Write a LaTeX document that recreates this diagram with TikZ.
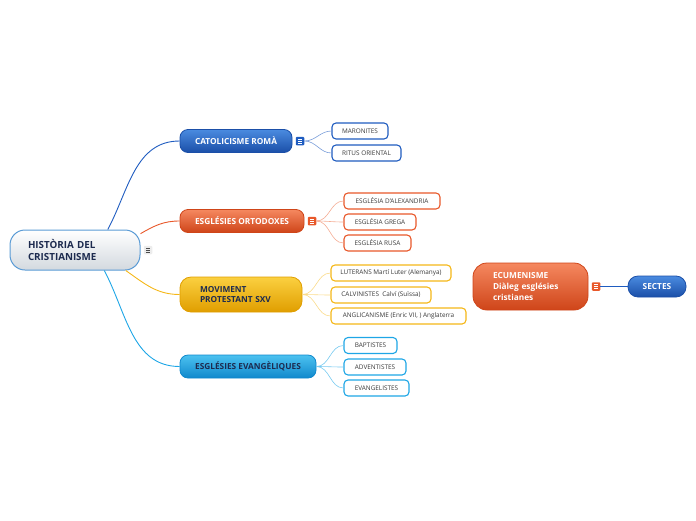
\documentclass[tikz,border=0pt]{standalone}
\usepackage{fontspec}
\setmainfont{Open Sans}
\definecolor{navy}{HTML}{1D2B4F}
\definecolor{leaftext}{HTML}{3A3A3A}
\definecolor{catblue}{HTML}{1F5CC0}
\definecolor{cattop}{HTML}{4A8BE0}
\definecolor{catbot}{HTML}{1B4FA8}
\definecolor{ortred}{HTML}{E8582A}
\definecolor{orttop}{HTML}{F58860}
\definecolor{ortbot}{HTML}{CF4519}
\definecolor{proyel}{HTML}{F5B718}
\definecolor{protop}{HTML}{FBD040}
\definecolor{probot}{HTML}{E09E00}
\definecolor{evacyan}{HTML}{1EA6E6}
\definecolor{evatop}{HTML}{4CC2F0}
\definecolor{evabot}{HTML}{1088CC}
\definecolor{rootline}{HTML}{5A9BD5}
\definecolor{rootbot}{HTML}{D3D9DF}
\begin{document}
\begin{tikzpicture}[x=1pt,y=-1pt,
main/.style={
rectangle,draw,rounded corners=8pt,
align=center,line width=0.8pt,
inner sep=0pt,
font=\bfseries\fontsize{8.3}{10}\selectfont
},
leaf/.style={
rectangle,draw,rounded corners=4pt,
fill=white,line width=1.1pt,
inner sep=0pt,minimum height=16pt,
text=leaftext,
font=\fontsize{6.4}{7}\selectfont
},
icon/.style={
rectangle,rounded corners=1pt,
minimum size=8.5pt,inner sep=0pt,
path picture={
\foreach \yy in {-2,0,2}
\draw[white,line width=0.8pt]
([xshift=-2.2pt,yshift=\yy pt]path picture bounding box.center) --
([xshift=2.2pt,yshift=\yy pt]path picture bounding box.center);
}
},
link/.style={line width=0.9pt},
sublink/.style={line width=0.6pt}
]
\useasboundingbox (0,0) rectangle (696,520);

% =======================
% ROOT
% =======================

\node[main,draw=rootline,top color=white,bottom color=rootbot,
rounded corners=15pt,line width=1pt,text=navy,align=left,
text width=94pt,inner xsep=18pt,minimum height=40pt,
font=\bfseries\fontsize{9.8}{12.5}\selectfont] (root) at (75,250)
{HISTÒRIA DEL\\CRISTIANISME};

\node[icon,fill=gray!15,path picture={
\foreach \yy in {-2,0,2}
\draw[gray!60!black,line width=0.7pt]
([xshift=-2.2pt,yshift=\yy pt]path picture bounding box.center) --
([xshift=2.2pt,yshift=\yy pt]path picture bounding box.center);
}] (root-ic) at (148,250) {};

% =======================
% CATOLICISME
% =======================

\node[main,draw=catbot,top color=cattop,bottom color=catbot,text=white,
minimum width=112pt,minimum height=23pt] (cat) at (236,141)
{CATOLICISME ROMÀ};

\node[icon,fill=catblue] (cat-ic) at (300,141) {};

\node[leaf,draw=catblue,minimum width=56pt] (maro) at (360,131) {MARONITES};
\node[leaf,draw=catblue,minimum width=69pt] (ritus) at (366.5,153) {RITUS ORIENTAL};

% =======================
% ORTODOXES
% =======================

\node[main,draw=ortbot,top color=orttop,bottom color=ortbot,text=white,
minimum width=124pt,minimum height=23pt] (ort) at (242,221)
{ESGLÉSIES ORTODOXES};

\node[icon,fill=ortred] (ort-ic) at (312,221) {};

\node[leaf,draw=ortred,minimum width=96pt] (alex) at (392,201) {ESGLÉSIA D'ALEXANDRIA};
\node[leaf,draw=ortred,minimum width=72pt] (grega) at (380,222) {ESGLÉSIA GREGA};
\node[leaf,draw=ortred,minimum width=67pt] (rusa) at (377.5,243) {ESGLÉSIA RUSA};

% =======================
% PROTESTANT
% =======================

\node[main,draw=probot,top color=protop,bottom color=probot,text=navy,
rounded corners=11pt,align=left,text width=82pt,inner xsep=20pt,
minimum height=35pt] (pro) at (241,294.5)
{MOVIMENT\\PROTESTANT SXV};

\node[leaf,draw=proyel,minimum width=120pt] (lut) at (391,273) {LUTERANS Martí Luter (Alemanya)};
\node[leaf,draw=proyel,minimum width=100pt] (calv) at (381,295) {CALVINISTES~~Calví (Suïssa)};
\node[leaf,draw=proyel,minimum width=135pt] (angl) at (398.5,316) {ANGLICANISME (Enric VII, ) Anglaterra};

% =======================
% EVANGELIQUES
% =======================

\node[main,draw=evabot,top color=evatop,bottom color=evabot,text=navy,
minimum width=136pt,minimum height=23pt] (eva) at (248,366.5)
{ESGLÉSIES EVANGÈLIQUES};

\node[leaf,draw=evacyan,minimum width=53pt] (bapt) at (370.5,345.5) {BAPTISTES};
\node[leaf,draw=evacyan,minimum width=62pt] (adv) at (375,367) {ADVENTISTES};
\node[leaf,draw=evacyan,minimum width=65pt] (evang) at (376.5,388) {EVANGELISTES};

% =======================
% ECUMENISME
% =======================

\node[main,draw=ortbot,top color=orttop,bottom color=ortbot,text=white,
rounded corners=14pt,align=left,text width=75pt,inner xsep=20pt,
minimum height=47pt,font=\bfseries\fontsize{8.3}{11}\selectfont] (ecu) at (530.5,286.5)
{ECUMENISME\\Diàleg esglésies\\cristianes};

\node[icon,fill=ortred] (ecu-ic) at (596,286.5) {};

\node[main,draw=catbot,top color=cattop,bottom color=catbot,text=white,
rounded corners=10pt,minimum width=58pt,minimum height=21pt] (sect) at (657,286.5)
{SECTES};

% =======================
% CONNECTORS
% =======================

\draw[link,catblue] (root.32) to[out=62,in=180] (cat.west);
\draw[link,ortred] (root.14) to[out=30,in=180] (ort.west);
\draw[link,proyel] (root.-22) to[out=-35,in=180] (pro.west);
\draw[link,evacyan] (root.-35) to[out=-62,in=180] (eva.west);

\draw[sublink,catblue!60] (cat-ic.east) to[out=0,in=180] (maro.west);
\draw[sublink,catblue!60] (cat-ic.east) to[out=0,in=180] (ritus.west);

\draw[sublink,ortred!50] (ort-ic.east) to[out=0,in=180] (alex.west);
\draw[sublink,ortred!50] (ort-ic.east) to[out=0,in=180] (grega.west);
\draw[sublink,ortred!50] (ort-ic.east) to[out=0,in=180] (rusa.west);

\draw[sublink,proyel!50] (pro.east) to[out=0,in=180] (lut.west);
\draw[sublink,proyel!50] (pro.east) to[out=0,in=180] (calv.west);
\draw[sublink,proyel!50] (pro.east) to[out=0,in=180] (angl.west);

\draw[sublink,evacyan!60] (eva.east) to[out=0,in=180] (bapt.west);
\draw[sublink,evacyan!60] (eva.east) to[out=0,in=180] (adv.west);
\draw[sublink,evacyan!60] (eva.east) to[out=0,in=180] (evang.west);

\draw[sublink,catblue] (ecu-ic.east) -- (sect.west);

\end{tikzpicture}
\end{document}
